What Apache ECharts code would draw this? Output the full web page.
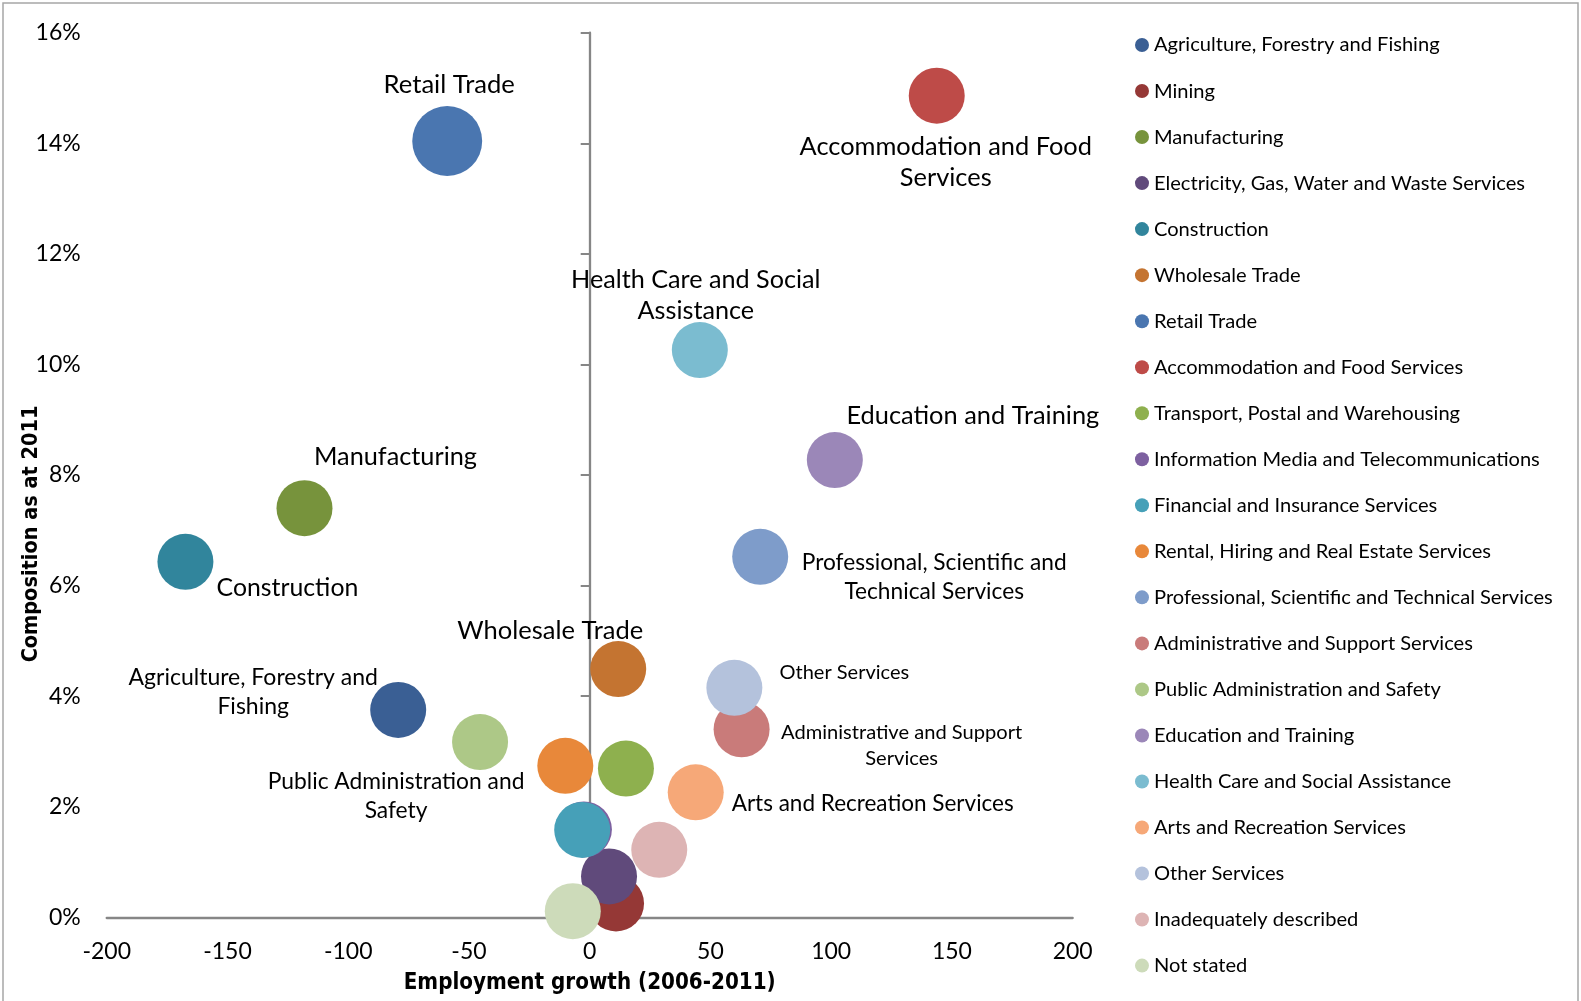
<!DOCTYPE html>
<html>
<head>
<meta charset="utf-8">
<script src="https://cdn.jsdelivr.net/npm/echarts@6/dist/echarts.min.js"></script>
<style>
  html, body { margin: 0; padding: 0; background: #fff; }
  #chart { width: 1581px; height: 1001px; }
</style>
</head>
<body>
<div id="chart"></div>
<script>
// ---------------- data ----------------
const categories = [
  'Agriculture, Forestry and Fishing',
  'Mining',
  'Manufacturing',
  'Electricity, Gas, Water and Waste Services',
  'Construction',
  'Wholesale Trade',
  'Retail Trade',
  'Accommodation and Food Services',
  'Transport, Postal and Warehousing',
  'Information Media and Telecommunications',
  'Financial and Insurance Services',
  'Rental, Hiring and Real Estate Services',
  'Professional, Scientific and Technical Services',
  'Administrative and Support Services',
  'Public Administration and Safety',
  'Education and Training',
  'Health Care and Social Assistance',
  'Arts and Recreation Services',
  'Other Services',
  'Inadequately described',
  'Not stated'
];
// Employment growth (2006-2011)
const growth = [-79.3, 10.9, -118.1, 8.0, -167.4, 11.8, -59.0, 143.7, 15.0, -2.4, -3.1,
                -10.1, 70.6, 62.9, -45.4, 101.5, 45.6, 43.9, 59.9, 28.8, -7.0];
// Composition as at 2011 (%)
const share = [3.75, 0.25, 7.40, 0.74, 6.43, 4.49, 14.04, 14.86, 2.69, 1.59, 1.58,
               2.74, 6.52, 3.40, 3.17, 8.27, 10.26, 2.26, 4.15, 1.22, 0.11];
// relative bubble size value
const bubbleValue = [100, 100, 100, 100, 100, 100, 156, 100, 100, 100, 100,
                     100, 100, 100, 100, 100, 100, 100, 100, 100, 100];
// data label texts shown on the chart ('' = none)
const pointLabels = [
  'Agriculture, Forestry and\nFishing', '', 'Manufacturing', '', 'Construction',
  'Wholesale Trade', 'Retail Trade', 'Accommodation and Food\nServices', '', '', '',
  '', 'Professional, Scientific and\nTechnical Services', 'Administrative and Support\nServices',
  'Public Administration and\nSafety', 'Education and Training', 'Health Care and Social\nAssistance',
  'Arts and Recreation Services', 'Other Services', '', ''
];
const xTicks = { min: -200, max: 200, interval: 50 };
const yTicks = { min: 0, max: 16, interval: 2 };

// ---------------- styles ----------------
const colors = [
  '#3A5F94', '#953836', '#77933C', '#604A7B', '#31859C', '#C47431', '#4A76B0',
  '#BE4B48', '#8EB04E', '#7D60A0', '#46A0B8', '#E8883A', '#7E9CCA', '#C97B7A',
  '#ADC887', '#9B87B8', '#7BBCD0', '#F6A878', '#B4C2DC', '#DDB4B4', '#CDDBBA'
];
// label offsets from bubble centre (px), font size, line height
const labelStyle = {
  0: { off: [-145, -18], fs: 23, lh: 29 },
  2: { off: [91, -51], fs: 25.3, lh: 29 },
  4: { off: [102, 26], fs: 24.8, lh: 29 },
  5: { off: [-68, -38], fs: 25.5, lh: 29 },
  6: { off: [2, -56], fs: 25.6, lh: 29 },
  7: { off: [9, 67], fs: 25.4, lh: 31 },
  12: { off: [174, 20], fs: 22.7, lh: 29 },
  13: { off: [160, 16], fs: 20.1, lh: 26.6 },
  14: { off: [-84, 54], fs: 22.8, lh: 29 },
  15: { off: [138, -44], fs: 25.4, lh: 29 },
  16: { off: [-4, -55], fs: 25.2, lh: 31 },
  17: { off: [177, 11], fs: 22.5, lh: 29 },
  18: { off: [110, -15], fs: 20, lh: 26 }
};
const FONT = 'Lato, "Open Sans", sans-serif';
const axisGray = '#868686';

const series = categories.map((name, i) => {
  const ls = labelStyle[i];
  return {
    name: name,
    type: 'scatter',
    xAxisIndex: 0,
    yAxisIndex: 0,
    data: [[growth[i], share[i], bubbleValue[i]]],
    symbol: 'circle',
    symbolSize: (v) => 56 * Math.sqrt(v[2] / 100),
    itemStyle: { color: colors[i], opacity: 1 },
    label: ls ? {
      show: true,
      position: 'inside',
      offset: ls.off,
      align: 'center',
      verticalAlign: 'middle',
      formatter: pointLabels[i],
      fontFamily: FONT,
      fontSize: ls.fs,
      lineHeight: ls.lh,
      color: '#000'
    } : { show: false },
    emphasis: { disabled: true },
    z: 2
  };
});

const chart = echarts.init(document.getElementById('chart'), null, { renderer: 'canvas' });
chart.setOption({
  animation: false,
  backgroundColor: '#fff',
  grid: { left: 106.7, top: 32.7, width: 966, height: 884.6, containLabel: false },
  xAxis: {
    type: 'value',
    min: xTicks.min, max: xTicks.max, interval: xTicks.interval,
    axisLine: { show: true, onZero: true, lineStyle: { color: axisGray, width: 2.3 } },
    axisTick: { show: false },
    splitLine: { show: false },
    axisLabel: { margin: 23, fontFamily: FONT, fontSize: 23, color: '#000' }
  },
  yAxis: [
    {
      type: 'value',
      min: yTicks.min, max: yTicks.max, interval: yTicks.interval,
      position: 'left',
      axisLine: { show: true, onZero: true, lineStyle: { color: axisGray, width: 2.3 } },
      axisTick: { show: true, length: 9, inside: false, lineStyle: { color: axisGray, width: 2 } },
      axisLabel: { show: false },
      splitLine: { show: false }
    },
    {
      type: 'value',
      min: yTicks.min, max: yTicks.max, interval: yTicks.interval,
      position: 'left',
      axisLine: { show: false, onZero: false },
      axisTick: { show: false },
      splitLine: { show: false },
      axisLabel: { margin: 26, fontFamily: FONT, fontSize: 23, color: '#000', formatter: '{value}%' }
    }
  ],
  legend: {
    orient: 'vertical',
    left: 1130,
    top: 29.5,
    icon: 'circle',
    itemWidth: 14,
    itemHeight: 14,
    itemGap: 25.03,
    data: categories,
    textStyle: { fontFamily: FONT, fontSize: 20.1, lineHeight: 21, color: '#000' },
    selectedMode: false
  },
  graphic: [
    {
      type: 'rect', silent: true, z: -1,
      shape: { x: 3, y: 3, width: 1575, height: 1010 },
      style: { fill: 'none', stroke: '#A6A6A6', lineWidth: 1.5 }
    },
    {
      type: 'text', silent: true,
      x: 589.7, y: 983,
      style: {
        text: 'Employment growth (2006-2011)',
        font: 'bold 22.2px "DejaVu Sans Condensed", Lato, sans-serif',
        fill: '#000', align: 'center', verticalAlign: 'middle'
      }
    },
    {
      type: 'text', silent: true,
      x: 31, y: 534, rotation: Math.PI / 2,
      style: {
        text: 'Composition as at 2011',
        font: 'bold 21.5px "DejaVu Sans Condensed", Lato, sans-serif',
        fill: '#000', align: 'center', verticalAlign: 'middle'
      }
    }
  ],
  series: series
});
</script>
</body>
</html>
